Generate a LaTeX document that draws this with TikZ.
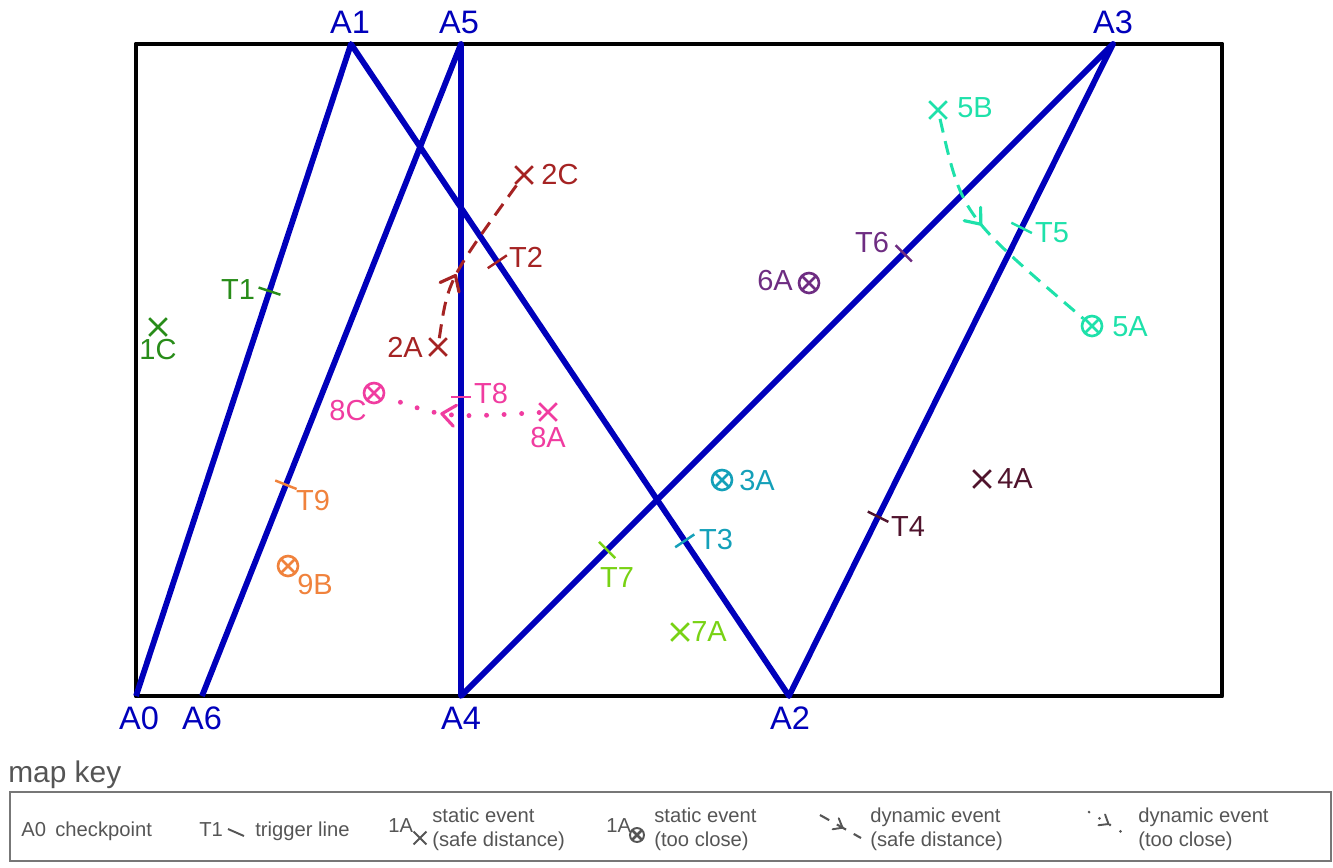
\documentclass[tikz,border=0pt]{standalone}
\usepackage{fontspec}
\setmainfont{Liberation Sans}
\usetikzlibrary{arrows.meta,calc,shapes.misc,decorations.markings,positioning}

\definecolor{route}{RGB}{0,0,187}
\definecolor{ev1}{RGB}{40,140,25}
\definecolor{ev2}{RGB}{165,35,35}
\definecolor{ev3}{RGB}{20,160,185}
\definecolor{ev4}{RGB}{80,20,45}
\definecolor{ev5}{RGB}{30,225,170}
\definecolor{ev6}{RGB}{110,45,130}
\definecolor{ev7}{RGB}{120,210,20}
\definecolor{ev8}{RGB}{240,60,160}
\definecolor{ev9}{RGB}{240,130,60}
\definecolor{keygray}{RGB}{85,85,85}

\newcommand\chevsz{7.5pt}

\begin{document}
\begin{tikzpicture}[x=0.02cm, y=-0.02cm,
    cp/.style={font=\fontsize{18.5}{20}\selectfont, text=route, inner sep=0pt},
    lbl/.style={font=\fontsize{16.5}{18}\selectfont, inner sep=0pt},
    keytxt/.style={font=\fontsize{11.5}{13.6}\selectfont, text=keygray, inner sep=0pt, align=left},
    leg/.style={route, line width=3.3pt, line join=round},
    trig/.style={line width=1.4pt},
    chev/.store in=\chevsz,
    evsafe/.style={cross out, draw, minimum size=0.3cm, inner sep=0pt, line width=1.5pt},
    evclose/.style={circle, draw, minimum size=0.4cm, inner sep=0pt, line width=1.5pt,
        path picture={\draw[line width=1.5pt] (path picture bounding box.north west) -- (path picture bounding box.south east)
            (path picture bounding box.north east) -- (path picture bounding box.south west);}},
    chevmark/.style={decoration={markings, mark=at position #1 with {
        \draw[solid, line cap=round, line join=round, line width={0.24*\chevsz}]
            (-\chevsz,0.8*\chevsz) -- (0,0) -- (-\chevsz,-0.8*\chevsz);}},
        postaction={decorate}},
    dyn/.style={dash pattern=on 8pt off 5pt, line width=1.7pt, chevmark=#1},
    dotev/.style={dash pattern=on 0pt off 10pt, line cap=round, line width=2.8pt, chevmark=#1}
]
\useasboundingbox (0,0) rectangle (1333,867);

% checkpoints
\coordinate (A0) at (136,696);
\coordinate (A1) at (351,44);
\coordinate (A2) at (789,696);
\coordinate (A3) at (1113,44);
\coordinate (A4) at (461,696);
\coordinate (A5) at (461,44);
\coordinate (A6) at (202,696);

\draw[line width=2.8pt, line join=round] (136,44) rectangle (1222,696);
\draw[leg] (A0) -- (A1) -- (A2) -- (A3) -- (A4) -- (A5) -- (A6);

\node[cp] (lA0) at (139,718) {A0};
\node[cp] (lA1) at (350,22) {A1};
\node[cp] (lA2) at (790,718) {A2};
\node[cp] (lA3) at (1113,22) {A3};
\node[cp] (lA4) at (461,718) {A4};
\node[cp] (lA5) at (459,22) {A5};
\node[cp] (lA6) at (202,718) {A6};

% trigger lines
\coordinate (t1) at ($(A0)!0.621!(A1)$);
\coordinate (t2) at ($(A1)!0.334!(A2)$);
\coordinate (t3) at ($(A1)!0.762!(A2)$);
\coordinate (t4) at ($(A3)!0.725!(A2)$);
\coordinate (t5) at ($(A3)!0.282!(A2)$);
\coordinate (t6) at ($(A4)!0.679!(A3)$);
\coordinate (t7) at ($(A4)!0.224!(A3)$);
\coordinate (t8) at ($(A5)!0.541!(A4)$);
\coordinate (t9) at ($(A6)!0.324!(A5)$);

\draw[trig, ev1] ($(t1)!0.23cm!90:(A1)$) -- ($(t1)!0.23cm!-90:(A1)$);
\draw[trig, ev2] ($(t2)!0.23cm!90:(A2)$) -- ($(t2)!0.23cm!-90:(A2)$);
\draw[trig, ev3] ($(t3)!0.23cm!90:(A2)$) -- ($(t3)!0.23cm!-90:(A2)$);
\draw[trig, ev4] ($(t4)!0.23cm!90:(A2)$) -- ($(t4)!0.23cm!-90:(A2)$);
\draw[trig, ev5] ($(t5)!0.23cm!90:(A2)$) -- ($(t5)!0.23cm!-90:(A2)$);
\draw[trig, ev6] ($(t6)!0.23cm!90:(A3)$) -- ($(t6)!0.23cm!-90:(A3)$);
\draw[trig, ev7] ($(t7)!0.23cm!90:(A3)$) -- ($(t7)!0.23cm!-90:(A3)$);
\draw[trig, ev8] ($(t8)!0.2cm!90:(A4)$) -- ($(t8)!0.2cm!-90:(A4)$);
\draw[trig, ev9] ($(t9)!0.23cm!90:(A5)$) -- ($(t9)!0.23cm!-90:(A5)$);

\node[lbl, text=ev1] (lT1) at (238,290) {T1};
\node[lbl, text=ev2] (lT2) at (526,257) {T2};
\node[lbl, text=ev3] (lT3) at (716,540) {T3};
\node[lbl, text=ev4] (lT4) at (908,527) {T4};
\node[lbl, text=ev5] (lT5) at (1052,233) {T5};
\node[lbl, text=ev6] (lT6) at (872,243) {T6};
\node[lbl, text=ev7] (lT7) at (617,578) {T7};
\node[lbl, text=ev8] (lT8) at (491,394) {T8};
\node[lbl, text=ev9] (lT9) at (313,501) {T9};

% events
\node[evsafe, ev1] (e1C) at (158,327) {};
\node[evsafe, ev2] (e2A) at (438,347) {};
\node[evsafe, ev2] (e2C) at (524,175) {};
\node[evclose, ev3] (e3A) at (722,480) {};
\node[evsafe, ev4] (e4A) at (982,479) {};
\node[evsafe, ev5] (e5B) at (938,110) {};
\node[evclose, ev5] (e5A) at (1092,326) {};
\node[evclose, ev6] (e6A) at (809,283) {};
\node[evsafe, ev7] (e7A) at (680,632) {};
\node[evsafe, ev8] (e8A) at (548,412) {};
\node[evclose, ev8] (e8C) at (374,393) {};
\node[evclose, ev9] (e9B) at (288,566) {};

\node[lbl, text=ev1] (l1C) at (158,350) {1C};
\node[lbl, text=ev2] (l2A) at (405,347) {2A};
\node[lbl, text=ev2] (l2C) at (560,175) {2C};
\node[lbl, text=ev3] (l3A) at (757,481) {3A};
\node[lbl, text=ev4] (l4A) at (1015,479) {4A};
\node[lbl, text=ev5] (l5B) at (975,108) {5B};
\node[lbl, text=ev5] (l5A) at (1130,327) {5A};
\node[lbl, text=ev6] (l6A) at (775,281) {6A};
\node[lbl, text=ev7] (l7A) at (709,632) {7A};
\node[lbl, text=ev8] (l8A) at (548,438) {8A};
\node[lbl, text=ev8] (l8C) at (348,411) {8C};
\node[lbl, text=ev9] (l9B) at (315,585) {9B};

\draw[dyn=0.37, ev2] (e2A) .. controls (448,280) .. (e2C);
\draw[dyn=0.45, ev5] (e5B) .. controls (962,215) .. (e5A);
\draw[dotev=0.62, ev8] (e8A) .. controls (445,418) .. (e8C);

% map key
\node[anchor=base west, font=\fontsize{17}{19}\selectfont, text=keygray, inner sep=0pt] (keyttl) at (8,782) {map key};
\draw[keygray!80, line width=1.2pt] (10,792) rectangle (1331,861);

\node[keytxt, anchor=base west] (kA0) at (21,836) {A0};
\node[keytxt, anchor=base west] (kcp) at (55,836) {checkpoint};

\node[keytxt, anchor=base west] (kT1) at (199,836) {T1};
\coordinate (kt1a) at (228,829);
\coordinate (kt1b) at (244,836);
\draw[keygray, line width=1.1pt] (kt1a) -- (kt1b);
\node[keytxt, anchor=base west] (ktl) at (255,836) {trigger line};

\node[keytxt, anchor=base west] (k1A) at (388,832) {1A};
\node[evsafe, keygray, minimum size=0.22cm, line width=1.1pt] (ksafe) at (420,838) {};
\node[keytxt, anchor=west] (ksafet) at (432,829) {static event\\(safe distance)};

\node[keytxt, anchor=base west] (k1B) at (606,832) {1A};
\node[evclose, keygray, minimum size=0.28cm, line width=1.1pt] (kclose) at (637,835) {};
\node[keytxt, anchor=west] (kcloset) at (654,829) {static event\\(too close)};

\coordinate (kd1) at (820,815);
\coordinate (kd2) at (861,838);
\draw[dyn=0.55, chev=4.5pt, keygray, line width=1.2pt, dash pattern=on 6pt off 5pt] (kd1) -- (kd2);
\node[keytxt, anchor=west] (kdynt) at (870,829) {dynamic event\\(safe distance)};

\coordinate (kp1) at (1089,812);
\coordinate (kp2) at (1128,836);
\draw[dotev=0.5, chev=4.5pt, keygray, line width=1.7pt, dash pattern=on 0pt off 7pt] (kp1) -- (kp2);
\node[keytxt, anchor=west] (kdott) at (1138,829) {dynamic event\\(too close)};
\end{tikzpicture}
\end{document}
